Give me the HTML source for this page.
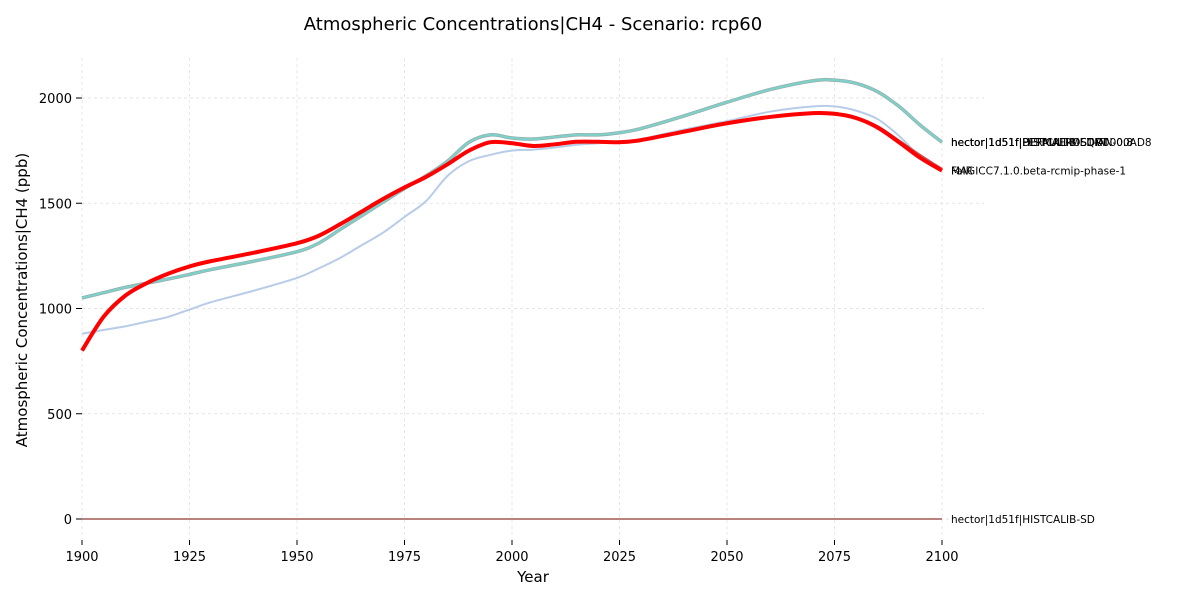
<!DOCTYPE html>
<html><head><meta charset="utf-8"><style>
body{margin:0;background:#fff;font-family:"Liberation Sans","DejaVu Sans",sans-serif}
</style></head><body>
<svg id="c" width="1200" height="600" xmlns="http://www.w3.org/2000/svg" font-family="DejaVu Sans, Liberation Sans, sans-serif">
<text x="533" y="30" text-anchor="middle" font-size="18">Atmospheric Concentrations|CH4 - Scenario: rcp60</text>
<g id="grid"></g>
<g id="axes"></g>
<g id="series"></g>
<g id="labels"></g>
<text x="533" y="582" text-anchor="middle" font-size="15">Year</text>
<text transform="translate(27,300) rotate(-90)" text-anchor="middle" font-size="15">Atmospheric Concentrations|CH4 (ppb)</text>
</svg>
<script>
const xTicks=[1900,1925,1950,1975,2000,2025,2050,2075,2100];
const yTicks=[0,500,1000,1500,2000];
const years=[1900,1905,1910,1915,1920,1925,1930,1940,1950,1955,1960,1965,1970,1975,1980,1985,1990,1995,2000,2005,2010,2015,2020,2025,2030,2040,2050,2060,2070,2075,2080,2085,2090,2095,2100];
const hector=[1050,1075,1100,1120,1140,1162,1185,1225,1270,1310,1375,1440,1505,1570,1630,1700,1790,1825,1810,1805,1815,1825,1825,1835,1855,1915,1980,2040,2082,2085,2070,2030,1960,1870,1790];
const magicc=[800,960,1060,1120,1165,1200,1225,1265,1310,1345,1400,1460,1520,1575,1625,1685,1750,1790,1785,1772,1780,1792,1792,1790,1800,1840,1880,1910,1928,1925,1905,1860,1790,1715,1655];
const fair=[800,960,1060,1120,1165,1200,1225,1265,1310,1345,1400,1460,1520,1575,1625,1685,1750,1790,1785,1774,1782,1795,1795,1795,1805,1845,1885,1915,1932,1930,1910,1868,1800,1730,1665];
const other=[880,898,915,937,960,995,1030,1085,1145,1190,1240,1300,1360,1435,1510,1630,1700,1730,1750,1755,1765,1778,1785,1790,1805,1850,1890,1935,1960,1960,1940,1900,1820,1720,1660];
const sdVals=years.map(()=>0);
const X=y=>82+(y-1900)*4.3, Y=v=>519-v*0.2105;
const NS="http://www.w3.org/2000/svg";
function mk(t,a,p){const e=document.createElementNS(NS,t);for(const k in a)e.setAttribute(k,a[k]);p.appendChild(e);return e;}
const grid=document.getElementById('grid'),axes=document.getElementById('axes'),ser=document.getElementById('series'),lab=document.getElementById('labels');
xTicks.forEach(t=>{const l=mk('line',{x1:X(t),x2:X(t),y1:58,y2:540,stroke:'#ddd','stroke-dasharray':'3,3','stroke-width':0.7},grid);

const tx=mk('text',{x:X(t),y:561,'text-anchor':'middle','font-size':13},axes);tx.textContent=t;

mk('line',{x1:X(t),x2:X(t),y1:540,y2:545,stroke:'#000'},axes);});
yTicks.forEach(t=>{const l=mk('line',{x1:82,x2:984,y1:Y(t),y2:Y(t),stroke:'#ddd','stroke-dasharray':'3,3','stroke-width':0.7},grid);

const tx=mk('text',{x:72,y:Y(t)+5,'text-anchor':'end','font-size':13},axes);tx.textContent=t;

mk('line',{x1:76,x2:82,y1:Y(t),y2:Y(t),stroke:'#000'},axes);});
function path(vals){const p=years.map((y,i)=>[X(y),Y(vals[i])]);
let d='M'+p[0][0]+','+p[0][1];for(let i=0;i<p.length-1;i++){const p0=p[i-1]||p[i],p1=p[i],p2=p[i+1],p3=p[i+2]||p2;
d+=' C'+(p1[0]+(p2[0]-p0[0])/6)+','+(p1[1]+(p2[1]-p0[1])/6)+' '+(p2[0]-(p3[0]-p1[0])/6)+','+(p2[1]-(p3[1]-p1[1])/6)+' '+p2[0]+','+p2[1];}return d;}
function line(vals,col,w,name){const e=mk('path',{d:path(vals),fill:'none',stroke:col,'stroke-width':w},ser);
}
line(other,'#b8cce8',2,'line-other-model');
line(hector,'#9aa',3.5,'line-hector-edge');
line(hector,'#7fd0c8',2.2,'line-hector');
line(fair,'#c85050',1.5,'line-fair');
line(magicc,'#ff0000',4,'line-magicc');
line(sdVals,'#a05a50',1.5,'line-hector-sd');
function label(txt,v,name){const t=mk('text',{x:951,y:Y(v)+4,'font-size':10.5},lab);t.textContent=txt;
}
label('hector|1d51f|HISTCALIB-SQRT',hector[hector.length-1],'label-hector-a');
label('hector|1d51f|DEFAULT-MEDIAN-0.8',hector[hector.length-1],'label-hector-b');
label('hector|1d51f|PERMAFROST-00000AD8',hector[hector.length-1],'label-hector-c');
label('FaIR',magicc[magicc.length-1],'label-fair');
label('MAGICC7.1.0.beta-rcmip-phase-1',magicc[magicc.length-1],'label-magicc');
label('hector|1d51f|HISTCALIB-SD',0,'label-hector-sd');
</script>
</body></html>
